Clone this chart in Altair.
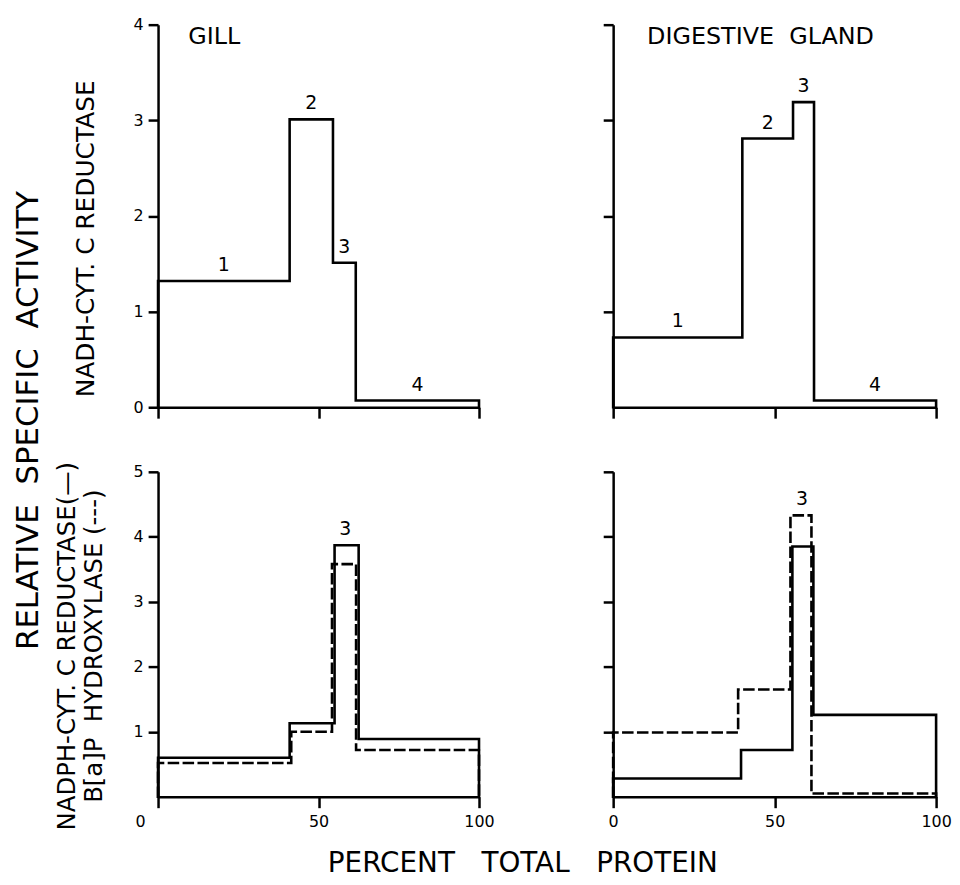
import altair as alt
import pandas as pd

FONT = "DejaVu Sans"
NB = "\u00a0"

# ---- data: fraction boundaries (% total protein) and specific activities ----
fraction_labels = ["1", "2", "3", "4"]

gill_top_bounds = [0, 41, 54.5, 61.6, 100]
gill_top_nadh = [1.32, 3.01, 1.51, 0.07]

dg_top_bounds = [0, 40, 55.7, 62.2, 100]
dg_top_nadh = [0.73, 2.81, 3.19, 0.07]

gill_bot_bounds_nadph = [0, 41, 55, 62.5, 100]
gill_bot_nadph = [0.60, 1.13, 3.87, 0.89]
gill_bot_bounds_bap = [0, 41.5, 54.2, 61.7, 100]
gill_bot_bap = [0.52, 1.00, 3.58, 0.72]

dg_bot_bounds_nadph = [0, 39.6, 55.5, 62.0, 100]
dg_bot_nadph = [0.28, 0.72, 3.85, 1.26]
dg_bot_bounds_bap = [0, 38.7, 54.9, 61.4, 100]
dg_bot_bap = [0.99, 1.65, 4.33, 0.05]

x_ticks = [0, 50, 100]
panel_names = ["GILL", "DIGESTIVE " + NB + "GLAND"]


def steps(bounds, values, series):
    pts = [(bounds[0], 0)]
    for i, v in enumerate(values):
        pts.append((bounds[i], v))
        pts.append((bounds[i + 1], v))
    pts.append((bounds[-1], 0))
    return [{"x": x, "y": y, "series": series, "order": k} for k, (x, y) in enumerate(pts)]


def top_labels(bounds, values):
    return [{"x": (bounds[i] + bounds[i + 1]) / 2, "y": values[i], "label": fraction_labels[i]}
            for i in range(len(values))]


def peak_label(b1, v1, b2, v2, i=2):
    cx = ((b1[i] + b1[i + 1]) / 2 + (b2[i] + b2[i + 1]) / 2) / 2
    return [{"x": cx, "y": max(v1[i], v2[i]), "label": fraction_labels[i]}]


def panel(lines, labels, ymax, height, width, name, name_x,
          y_values, y_labels, y_title=None, y_title_pad=0, y_title_y=None, y_title_size=24,
          x_labels=False, shift_zero=False):
    ldf = pd.DataFrame(lines)
    tdf = pd.DataFrame(labels)
    yaxis_kw = dict(values=y_values, labels=y_labels, tickSize=10, labelPadding=5, format="d")
    if y_title is not None:
        yaxis_kw.update(title=y_title, titlePadding=y_title_pad, titleFontSize=y_title_size,
                        titleLineHeight=27)
        if y_title_y is not None:
            yaxis_kw.update(titleY=y_title_y)
    else:
        yaxis_kw.update(title=None)
    xscale = alt.Scale(domain=[0, 100], nice=False, zero=False)
    yscale = alt.Scale(domain=[0, ymax], nice=False)
    xaxis_kw = dict(values=x_ticks, labels=x_labels, title=None, tickSize=11, labelPadding=6,
                    format="d")
    if shift_zero:
        xaxis_kw.update(
            labelAlign=alt.condition("datum.value == 0", alt.value("right"), alt.value("center")),
            labelOffset=alt.condition("datum.value == 0", alt.value(-13), alt.value(0)),
        )
    xaxis = alt.Axis(**xaxis_kw)
    line = alt.Chart(ldf).mark_line(color="black", strokeWidth=2.6, strokeJoin="miter",
                                    strokeCap="square").encode(
        x=alt.X("x:Q", scale=xscale, axis=xaxis),
        y=alt.Y("y:Q", scale=yscale, axis=alt.Axis(**yaxis_kw)),
        order="order:Q",
        strokeDash=alt.StrokeDash("series:N",
                                  scale=alt.Scale(domain=["solid", "dashed"],
                                                  range=[[1, 0], [9, 6]]),
                                  legend=None),
    )
    text = alt.Chart(tdf).mark_text(font=FONT, fontSize=19, baseline="alphabetic", dy=-10,
                                    color="black").encode(
        x=alt.X("x:Q", scale=xscale),
        y=alt.Y("y:Q", scale=yscale),
        text="label:N",
    )
    layers = [line, text]
    if name:
        ndf = pd.DataFrame([{"x": name_x, "y": ymax, "label": name}])
        layers.append(alt.Chart(ndf).mark_text(font=FONT, fontSize=24, baseline="top",
                                               align="left", dy=0, color="black").encode(
            x=alt.X("x:Q", scale=xscale),
            y=alt.Y("y:Q", scale=yscale),
            text="label:N",
        ))
    return alt.layer(*layers).properties(width=width, height=height)


tl = panel(steps(gill_top_bounds, gill_top_nadh, "solid"),
           top_labels(gill_top_bounds, gill_top_nadh),
           4, 385, 323, panel_names[0], 9.4, [0, 1, 2, 3, 4], True,
           y_title="NADH-CYT. C REDUCTASE", y_title_pad=35, y_title_y=215, y_title_size=25)
tr = panel(steps(dg_top_bounds, dg_top_nadh, "solid"),
           top_labels(dg_top_bounds, dg_top_nadh),
           4, 385, 325, panel_names[1], 10.5, [1, 2, 3, 4], False)
bl = panel(steps(gill_bot_bounds_nadph, gill_bot_nadph, "solid")
           + steps(gill_bot_bounds_bap, gill_bot_bap, "dashed"),
           peak_label(gill_bot_bounds_nadph, gill_bot_nadph, gill_bot_bounds_bap, gill_bot_bap),
           5, 327, 323, None, 0, [1, 2, 3, 4, 5], True,
           y_title=["NADPH-CYT. C REDUCTASE(—)", "B[a]P " + NB + "HYDROXYLASE (---)"],
           y_title_pad=27, y_title_y=175, y_title_size=24.5, x_labels=True, shift_zero=True)
br = panel(steps(dg_bot_bounds_nadph, dg_bot_nadph, "solid")
           + steps(dg_bot_bounds_bap, dg_bot_bap, "dashed"),
           peak_label(dg_bot_bounds_nadph, dg_bot_nadph, dg_bot_bounds_bap, dg_bot_bap),
           5, 327, 325, None, 0, [1, 2, 3, 4, 5], False, x_labels=True)

inner = alt.concat(tl, tr, bl, br, columns=2, spacing={"row": 41, "column": 107}).properties(
    title=alt.TitleParams("RELATIVE " + NB + "SPECIFIC " + NB + "ACTIVITY", orient="left",
                          anchor="middle", font=FONT, fontSize=31, fontWeight="normal",
                          color="black", offset=10, dx=3)
)

chart = alt.vconcat(inner).properties(
    title=alt.TitleParams("PERCENT " + NB + NB + "TOTAL " + NB + NB + "PROTEIN", orient="bottom",
                          anchor="middle", font=FONT, fontSize=28, fontWeight="normal",
                          color="black", offset=20, dx=41),
    padding={"left": 4, "top": 6, "right": 0, "bottom": 0},
).configure_view(stroke=None).configure_axis(
    domainColor="black", domainWidth=2.5, tickColor="black", tickWidth=2.5,
    labelFont=FONT, labelFontSize=16, labelColor="black", grid=False,
    titleFont=FONT, titleFontWeight="normal", titleColor="black",
    labelFlush=False, labelOverlap=False,
)

chart.save("out.html", embed_options={"renderer": "svg", "actions": False})
